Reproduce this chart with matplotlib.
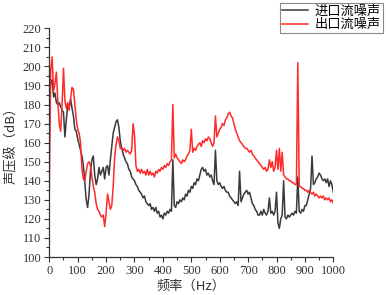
import numpy as np
import matplotlib
matplotlib.use('Agg')
import matplotlib.pyplot as plt
from matplotlib.ticker import MultipleLocator

# spectrum bins, 5 Hz apart
freq = np.arange(0, 1001, 5)

# inlet noise (进口流噪声), dB, one row = 50 Hz
inlet = [
    184, 191, 193, 184, 186, 181, 180, 181, 179, 177,
    176, 163, 172, 180, 179, 183, 178, 174, 167, 166,
    162, 159, 156, 153, 148, 139, 130, 126, 133, 145,
    151, 153, 143, 138, 141, 147, 143, 145, 147, 141,
    147, 148, 143, 151, 158, 165, 168, 171, 172, 168,
    161, 157, 154, 152, 150, 149, 146, 145, 142, 141,
    140, 138, 137, 135, 134, 133, 131, 132, 129, 128,
    127, 128, 125, 126, 124, 126, 123, 124, 121, 122,
    120, 123, 122, 124, 123, 125, 124, 151, 127, 126,
    129, 128, 130, 129, 131, 130, 133, 132, 135, 134,
    137, 136, 139, 138, 141, 140, 143, 146, 147, 145,
    146, 143, 144, 142, 143, 140, 138, 156, 140, 138,
    139, 137, 136, 137, 135, 134, 134, 132, 131, 130,
    129, 128, 129, 127, 145, 129, 131, 133, 134, 135,
    133, 134, 131, 128, 127, 125, 124, 122, 122, 124,
    122, 125, 123, 122, 124, 131, 123, 124, 122, 124,
    134, 118, 115, 120, 122, 140, 121, 120, 122, 121,
    122, 123, 122, 124, 123, 142, 124, 123, 125, 124,
    127, 127, 130, 133, 136, 153, 138, 139, 141, 142,
    144, 143, 141, 140, 141, 139, 141, 137, 140, 138,
    134,
]

# outlet noise (出口流噪声), dB
outlet = [
    135, 198, 205, 187, 191, 197, 182, 170, 166, 180,
    199, 182, 178, 181, 177, 183, 189, 188, 180, 172,
    167, 165, 160, 146, 141, 140, 145, 149, 150, 148,
    142, 137, 134, 128, 125, 124, 122, 121, 122, 116,
    123, 133, 129, 125, 127, 137, 152, 159, 163, 161,
    157, 157, 156, 157, 155, 156, 155, 154, 156, 170,
    164, 148, 145, 146, 144, 146, 144, 145, 143, 146,
    143, 145, 143, 144, 142, 145, 144, 146, 145, 147,
    146, 148, 147, 149, 148, 150, 151, 180, 152, 154,
    152, 151, 150, 149, 151, 150, 151, 153, 154, 156,
    167, 155, 157, 156, 158, 159, 160, 158, 161, 160,
    162, 161, 163, 162, 160, 158, 160, 174, 163, 165,
    167, 168, 170, 169, 172, 173, 175, 176, 174, 173,
    170, 167, 165, 163, 161, 160, 159, 158, 157, 157,
    156, 155, 156, 154, 153, 152, 151, 150, 149, 148,
    147, 146, 147, 145, 146, 151, 147, 150, 145, 147,
    156, 146, 157, 145, 155, 143, 142, 141, 141, 140,
    140, 139, 139, 138, 138, 202, 137, 137, 136, 136,
    135, 135, 134, 135, 134, 133, 134, 132, 133, 132,
    131, 132, 131, 132, 130, 131, 130, 131, 129, 130,
    128,
]

labels = ['进口流噪声', '出口流噪声']
cjk = ['Noto Sans CJK SC', 'DejaVu Sans']

plt.rcParams['font.family'] = ['Liberation Serif', 'Noto Sans CJK SC']

fig = plt.figure(figsize=(3.86, 2.95), dpi=100)
ax = fig.add_axes([0.1277, 0.1288, 0.7358, 0.7752])

ax.plot(freq, inlet, color='#3a3a3a', lw=1.1, label=labels[0])
ax.plot(freq, outlet, color='#ff2a2a', lw=1.1, label=labels[1])

ax.set_xlim(0, 1000)
ax.set_ylim(100, 220)
ax.xaxis.set_major_locator(MultipleLocator(100))
ax.xaxis.set_minor_locator(MultipleLocator(50))
ax.yaxis.set_major_locator(MultipleLocator(10))
ax.yaxis.set_minor_locator(MultipleLocator(5))
ax.tick_params(which='both', direction='out', colors='#333333', width=0.8)
ax.tick_params(which='major', length=3.5, labelsize=9, pad=2)
ax.tick_params(which='minor', length=2)
for side in ['top', 'right']:
    ax.spines[side].set_visible(False)
for side in ['left', 'bottom']:
    ax.spines[side].set_color('#333333')
    ax.spines[side].set_linewidth(0.9)

ax.set_xlabel('频率（Hz）', family=cjk, fontsize=9.5, color='#333333', labelpad=2)
ax.set_ylabel('声压级（dB）', family=cjk, fontsize=9.5, color='#333333', labelpad=3)

leg = fig.legend(loc='upper right', bbox_to_anchor=(0.992, 0.991),
                 prop={'family': cjk, 'size': 9.5}, frameon=True, fancybox=False,
                 framealpha=1, edgecolor='#888888', handlelength=2.0,
                 handletextpad=0.5, labelspacing=0.05, borderpad=0.15,
                 borderaxespad=0.0)
leg.get_frame().set_linewidth(0.8)

fig.savefig('out.png', dpi=100)
